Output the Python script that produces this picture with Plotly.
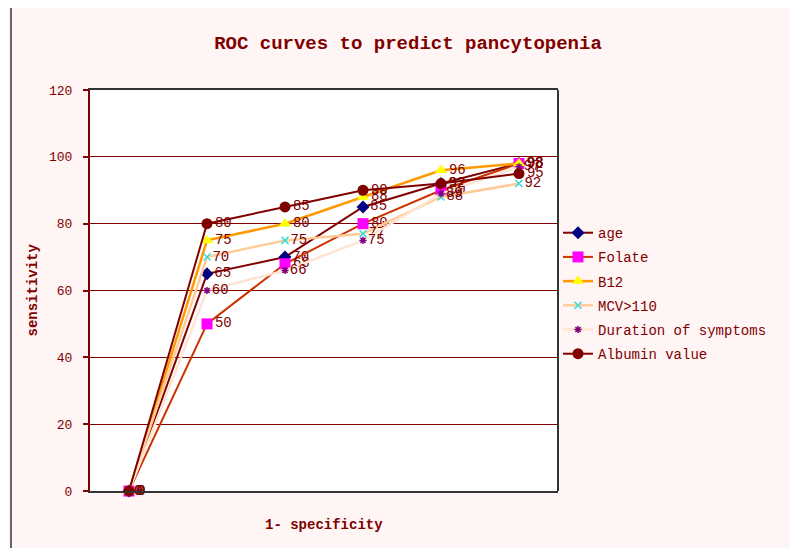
import plotly.graph_objects as go

categories = ["p0", "p1", "p2", "p3", "p4", "p5"]
age = [0, 65, 70, 85, 92, 98]
folate = [0, 50, 68, 80, 90, 98]
b12 = [0, 75, 80, 88, 96, 98]
mcv = [0, 70, 75, 77, 88, 92]
duration = [0, 60, 66, 75, 89, 97]
albumin = [0, 80, 85, 90, 92, 95]

series = [
    ("age", age, "#800000", "#000080", "diamond", 10, 2),
    ("Folate", folate, "#CC3300", "#FF00FF", "square", 11, 2),
    ("B12", b12, "#FF9900", "#FFFF00", "triangle-up", 11, 2.5),
    ("MCV>110", mcv, "#FFCC99", "#33DDDD", "x-thin", 7, 2.5),
    ("Duration of symptoms", duration, "#FFE4D4", "#800080", "asterisk", 6, 2.5),
    ("Albumin value", albumin, "#800000", "#800000", "circle", 11, 2),
]

DR = "#800000"
MONO = "Liberation Mono, DejaVu Sans Mono, monospace"

W, H = 790, 540
L, T = 82, 82
PW, PH = 468, 401

fig = go.Figure()
for name, vals, lc, mc, sym, ms, lw in series:
    mk = dict(symbol=sym, size=ms, color=mc)
    if sym in ("x-thin", "asterisk"):
        mk["line"] = dict(color=mc, width=1.5)
    fig.add_trace(go.Scatter(
        x=categories, y=vals, name=name, mode="lines+markers+text",
        line=dict(color=lc, width=lw), marker=mk,
        text=[str(v) for v in vals], textposition="middle right",
        textfont=dict(family=MONO, size=14, color=DR),
        cliponaxis=False, legendgroup=name,
    ))

fig.update_layout(
    width=W, height=H,
    margin=dict(l=L, r=W - L - PW, t=T, b=H - T - PH, autoexpand=False),
    paper_bgcolor="#FFF5F5", plot_bgcolor="#FFFFFF",
    title=dict(text="<b>ROC curves to predict pancytopenia</b>",
               x=400 / W, xref="container", xanchor="center",
               y=1 - 34 / H, yref="container", yanchor="middle",
               font=dict(family=MONO, size=19, color=DR)),
    showlegend=True,
    legend=dict(x=1.0, xanchor="left", y=0.683, yanchor="top",
                font=dict(family=MONO, size=14, color=DR),
                bgcolor="rgba(0,0,0,0)", tracegroupgap=3, itemwidth=30),
    xaxis=dict(type="category", showticklabels=False, showgrid=False,
               showline=True, linecolor="#333333", linewidth=2, mirror=True,
               ticks="", zeroline=False, range=[-0.5, 5.5]),
    yaxis=dict(range=[0, 120], dtick=20, showgrid=True, gridcolor=DR,
               gridwidth=1.2, showline=True, linecolor=DR, linewidth=2,
               ticks="outside", ticklen=5, tickcolor=DR, tickwidth=2,
               ticklabelstandoff=8,
               tickfont=dict(family=MONO, size=13, color=DR),
               zeroline=False),
    annotations=[
        dict(text="<b>sensitivity</b>", xref="paper", yref="paper",
             x=(32 - 90) / PW, y=0.5, xanchor="center", yanchor="middle",
             textangle=-90, showarrow=False,
             font=dict(family=MONO, size=14, color=DR)),
        dict(text="<b>1- specificity</b>", xref="paper", yref="paper",
             x=0.5, y=-34 / PH, xanchor="center", yanchor="middle",
             showarrow=False,
             font=dict(family=MONO, size=14, color=DR)),
    ],
    shapes=[
        dict(type="line", xref="paper", yref="paper", x0=1, x1=1, y0=0, y1=1,
             line=dict(color="#333333", width=2)),
        dict(type="line", xref="paper", yref="paper",
             x0=(11 - 90) / PW, x1=(11 - 90) / PW,
             y0=-(H - T - PH) / PH, y1=(PH + T) / PH,
             line=dict(color="#666666", width=2)),
    ],
)

fig.write_html("out.html")
